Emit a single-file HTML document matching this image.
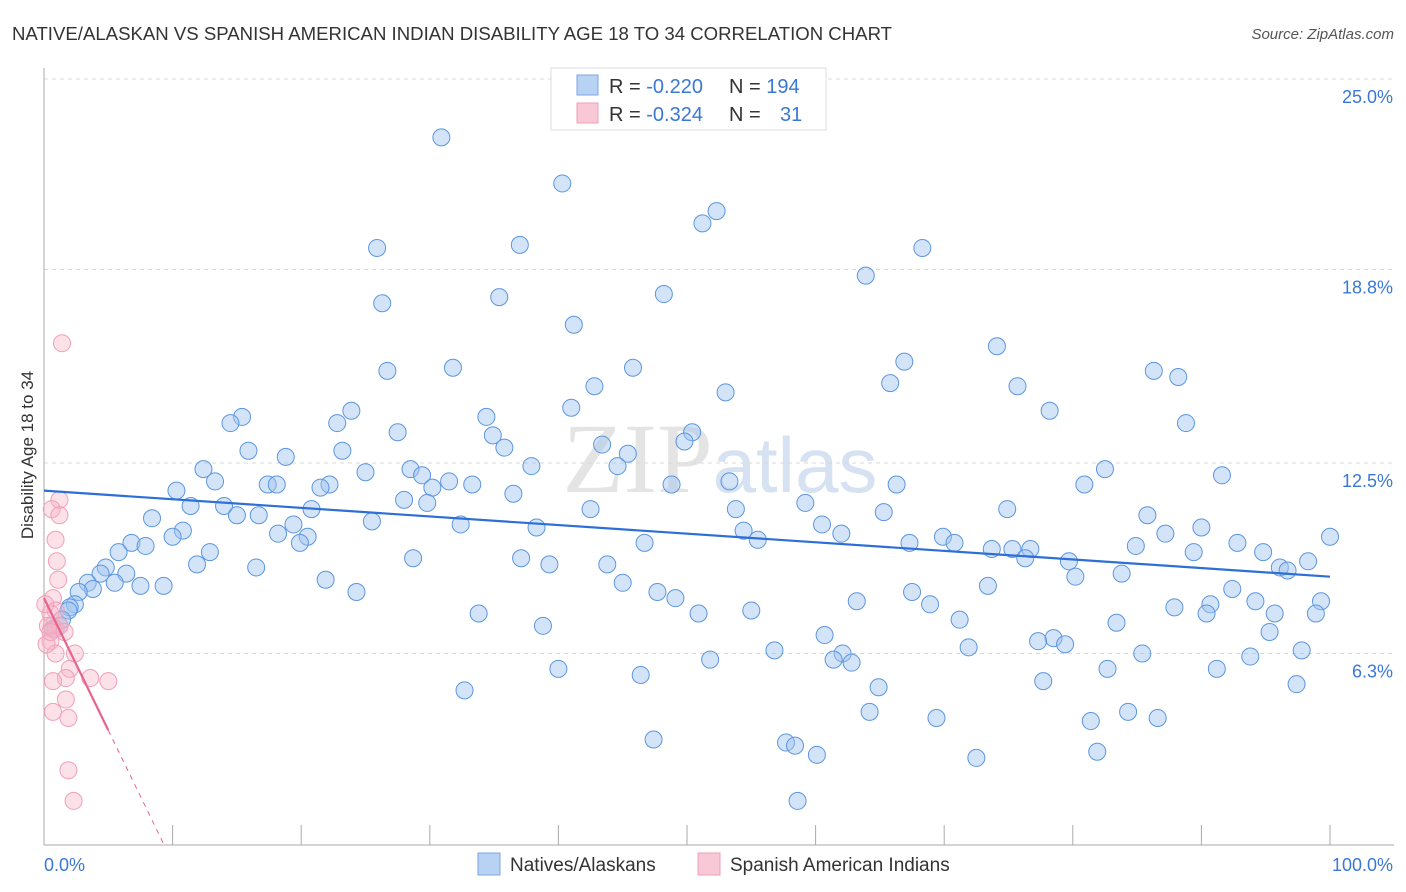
<!DOCTYPE html>
<html><head><meta charset="utf-8"><style>
body{margin:0;background:#fff;font-family:"Liberation Sans",sans-serif}
svg{display:block}
</style></head><body>
<svg id="chart" width="1406" height="892" viewBox="0 0 1406 892">
<text x="12" y="40" font-size="18.6" fill="#333">NATIVE/ALASKAN VS SPANISH AMERICAN INDIAN DISABILITY AGE 18 TO 34 CORRELATION CHART</text>
<text x="1394" y="39" font-size="15" fill="#555" font-style="italic" text-anchor="end">Source: ZipAtlas.com</text>
<text x="720" y="492" font-size="100" fill="#e4e4e4" text-anchor="middle" font-family="Liberation Serif">ZIP<tspan font-family="Liberation Sans" fill="#d6e2f2" font-size="78">atlas</tspan></text>
<g id="grid"></g>
<g id="axes"></g>
<g id="pts"></g>
<g id="lines"></g>
<text transform="translate(33,455) rotate(-90)" font-size="17" fill="#333" text-anchor="middle">Disability Age 18 to 34</text>
<g>
<rect x="551" y="68" width="275" height="62" fill="#fff" stroke="#ddd"/>
<rect x="577" y="75" width="21" height="20" fill="#b8d2f4" stroke="#7aa6e0"/>
<rect x="577" y="103" width="21" height="20" fill="#f9c8d6" stroke="#f0a0b8"/>
<text x="609" y="93" font-size="20" fill="#333">R = <tspan fill="#3a78d6">-0.220</tspan><tspan x="729">N = </tspan><tspan fill="#3a78d6">194</tspan></text>
<text x="609" y="121" font-size="20" fill="#333">R = <tspan fill="#3a78d6">-0.324</tspan><tspan x="729">N = </tspan><tspan x="780" fill="#3a78d6">31</tspan></text>
</g>
<g>
<rect x="478" y="853" width="22" height="22" fill="#b8d2f4" stroke="#7aa6e0"/>
<text x="510" y="871" font-size="19" fill="#333">Natives/Alaskans</text>
<rect x="698" y="853" width="22" height="22" fill="#f9c8d6" stroke="#f0a0b8"/>
<text x="730" y="871" font-size="19" fill="#333">Spanish American Indians</text>
</g>
</svg>
<script>
const yTicks=[25.0,18.8,12.5,6.3];
const yTickLabels=["25.0%","18.8%","12.5%","6.3%"];
const xTickCount=10;
const xEndLabels=["0.0%","100.0%"];
const blueX=[30.9,40.3,52.3,51.2,37.0,25.9,68.3,63.9,35.4,48.2,26.3,41.2,74.1,66.9,31.8,26.7,45.8,86.3,88.2,65.8,75.7,42.8,53.0,41.0,15.4,14.5,23.9,22.8,78.2,34.4,88.8,27.5,34.9,50.4,49.8,43.4,35.8,15.9,23.2,18.8,45.4,44.6,37.9,12.4,25.0,28.5,29.4,82.5,91.6,13.3,31.5,33.3,30.2,17.4,18.1,22.2,21.5,48.8,53.3,66.3,80.9,10.3,28.0,36.5,29.8,11.4,14.0,20.8,42.5,53.8,59.2,74.9,65.3,15.0,16.7,8.4,25.5,32.4,38.3,60.5,85.8,19.4,10.8,54.4,62.0,90.0,10.0,18.2,20.5,87.2,6.8,7.9,12.9,19.9,55.5,46.7,67.3,69.9,70.8,92.8,100,5.8,73.7,75.3,76.7,84.9,89.4,94.8,76.3,79.7,98.3,28.7,37.1,39.3,43.8,11.9,16.5,4.8,96.1,96.7,4.4,6.4,5.5,7.5,9.3,3.4,3.8,21.9,45.0,83.8,80.2,73.4,2.7,24.3,47.7,67.5,49.1,92.4,94.2,2.4,2.0,1.9,63.2,68.9,90.7,87.9,99.3,95.7,33.8,55.0,50.9,71.2,90.4,98.9,83.4,38.8,60.7,78.5,77.3,79.4,95.3,56.8,62.1,71.9,85.4,97.8,61.4,62.8,51.8,93.8,40.0,46.4,82.7,91.2,77.7,64.9,97.4,32.7,64.2,84.3,69.4,86.6,81.4,47.4,57.7,58.4,60.1,81.9,72.5,58.6,0.7,1.2,0.9,1.4];
const blueY=[23.1,21.6,20.7,20.3,19.6,19.5,19.5,18.6,17.9,18.0,17.7,17.0,16.3,15.8,15.6,15.5,15.6,15.5,15.3,15.1,15.0,15.0,14.8,14.3,14.0,13.8,14.2,13.8,14.2,14.0,13.8,13.5,13.4,13.5,13.2,13.1,13.0,12.9,12.9,12.7,12.8,12.4,12.4,12.3,12.2,12.3,12.1,12.3,12.1,11.9,11.9,11.8,11.7,11.8,11.8,11.8,11.7,11.8,11.9,11.8,11.8,11.6,11.3,11.5,11.2,11.1,11.1,11.0,11.0,11.0,11.2,11.0,10.9,10.8,10.8,10.7,10.6,10.5,10.4,10.5,10.8,10.5,10.3,10.3,10.2,10.4,10.1,10.2,10.1,10.2,9.9,9.8,9.6,9.9,10.0,9.9,9.9,10.1,9.9,9.9,10.1,9.6,9.7,9.7,9.7,9.8,9.6,9.6,9.4,9.3,9.3,9.4,9.4,9.2,9.2,9.2,9.1,9.1,9.1,9.0,8.9,8.9,8.6,8.5,8.5,8.6,8.4,8.7,8.6,8.9,8.8,8.5,8.3,8.3,8.3,8.3,8.1,8.4,8.0,7.9,7.8,7.7,8.0,7.9,7.9,7.8,8.0,7.6,7.6,7.7,7.6,7.4,7.6,7.6,7.3,7.2,6.9,6.8,6.7,6.6,7.0,6.4,6.3,6.5,6.3,6.4,6.1,6.0,6.1,6.2,5.8,5.6,5.8,5.8,5.4,5.2,5.3,5.1,4.4,4.4,4.2,4.2,4.1,3.5,3.4,3.3,3.0,3.1,2.9,1.5,7.1,7.2,7.1,7.4];
const pinkX=[1.4,1.2,0.6,1.2,0.9,1.0,1.1,0.7,0.5,0.6,0.9,0.5,0.9,2.4,2.0,1.7,0.7,3.6,5.0,1.7,0.7,1.9,1.9,2.3,0.3,0.2,0.9,1.2,0.5,1.6,0.1];
const pinkY=[16.4,11.3,11.0,10.8,10.0,9.3,8.7,8.1,7.6,7.2,7.1,6.7,6.3,6.3,5.8,5.5,5.4,5.5,5.4,4.8,4.4,4.2,2.5,1.5,7.2,6.6,7.7,7.2,7.0,7.0,7.9];
const blueTrend=[11.6,8.8];
const pinkTrend=[8.1,3.8];

const NS="http://www.w3.org/2000/svg";
const X0=44,X1=1330,Y0=847,PXPER=192/6.25;
const sx=v=>X0+(X1-X0)*v/100;
const sy=v=>Y0-v*PXPER;
function mk(tag,attrs,parent){const e=document.createElementNS(NS,tag);for(const k in attrs)e.setAttribute(k,attrs[k]);parent.appendChild(e);return e;}
const grid=document.getElementById('grid'),axes=document.getElementById('axes'),pts=document.getElementById('pts'),lines=document.getElementById('lines');
yTicks.forEach((t,i)=>{
  const l=mk('line',{x1:44,x2:1394,y1:sy(t),y2:sy(t),stroke:'#d8d8d8','stroke-dasharray':'4,4'},grid);
  
  
  const tx=mk('text',{x:1393,y:sy(t)+24,'font-size':18,fill:'#3a78d6','text-anchor':'end'},grid);
  tx.textContent=yTickLabels[i];
  
  
});
const ya=mk('line',{x1:44,x2:44,y1:68,y2:845,stroke:'#aaa'},axes);


const xa=mk('line',{x1:44,x2:1394,y1:845,y2:845,stroke:'#aaa'},axes);


for(let i=1;i<=xTickCount;i++){
  const t=mk('line',{x1:sx(i*10),x2:sx(i*10),y1:825,y2:845,stroke:'#aaa'},axes);
  
  
}
[[0,'start',44],[1,'end',1393]].forEach(([i,a,x])=>{
  const t=mk('text',{x:x,y:871,'font-size':18,fill:'#3a78d6','text-anchor':a},axes);
  t.textContent=xEndLabels[i];
  
  
});
blueX.forEach((x,i)=>{
  const c=mk('circle',{cx:sx(x),cy:sy(blueY[i]),r:8.5,fill:'rgba(160,196,240,0.45)',stroke:'#5b96e0','stroke-width':1},pts);
  
  
});
pinkX.forEach((x,i)=>{
  const c=mk('circle',{cx:sx(x),cy:sy(pinkY[i]),r:8.5,fill:'rgba(248,180,200,0.4)',stroke:'#f0a0b8','stroke-width':1},pts);
  
  
});
const bl=mk('line',{x1:sx(0),y1:sy(blueTrend[0]),x2:sx(100),y2:sy(blueTrend[1]),stroke:'#2d6fd6','stroke-width':2.2},lines);


const slope=(pinkTrend[1]-pinkTrend[0])/5;
const xz=-pinkTrend[0]/slope;
const pl=mk('line',{x1:sx(0),y1:sy(pinkTrend[0]),x2:sx(5),y2:sy(pinkTrend[1]),stroke:'#e8638c','stroke-width':2.2},lines);


const pd=mk('line',{x1:sx(5),y1:sy(pinkTrend[1]),x2:sx(xz),y2:sy(0),stroke:'#e8638c','stroke-width':1,'stroke-dasharray':'5,5'},lines);


</script>
</body></html>
